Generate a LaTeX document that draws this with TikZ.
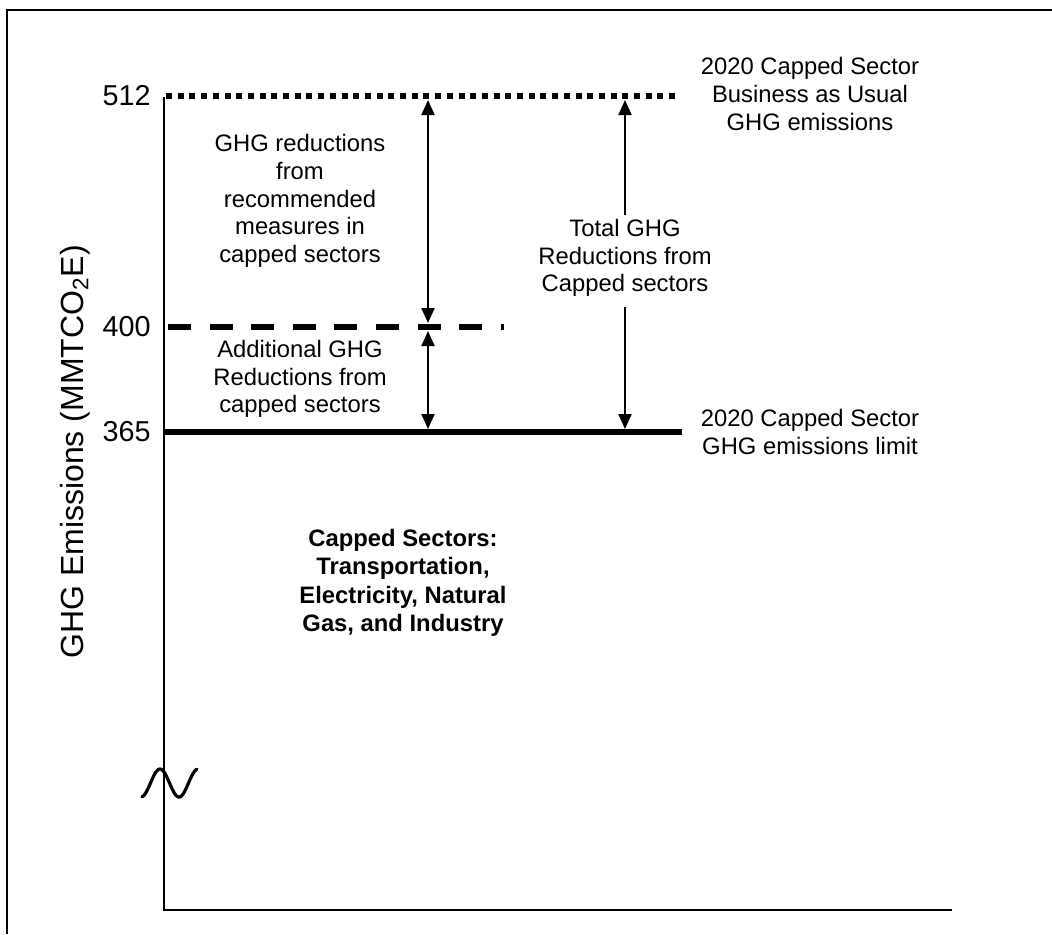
\documentclass[tikz,border=0pt]{standalone}
\usepackage{fontspec}
\setmainfont{Liberation Sans}
\usetikzlibrary{arrows.meta}
\begin{document}
\begin{tikzpicture}[x=0.5pt,y=-0.5pt,
  lbl/.style={align=center, font=\fontsize{11.9}{13.8}\selectfont, inner sep=0pt},
  boldlbl/.style={lbl, font=\fontsize{11.9}{14.2}\selectfont\bfseries},
  ticklbl/.style={anchor=east, font=\fontsize{14.4}{16}\selectfont, inner sep=0pt},
  axisline/.style={line width=1pt},
  bauline/.style={line width=2.8pt, dash pattern=on 3pt off 2.85pt},
  midline/.style={line width=2.9pt, dash pattern=on 11.5pt off 9.3pt},
  capline/.style={line width=3.3pt},
  tip/.tip={Triangle[length=7.5pt,width=6.5pt]},
  dbl/.style={line width=1pt, tip-tip},
  sgl/.style={line width=1pt, -tip}
]
\useasboundingbox (0,0) rectangle (1052,934);
% frame
\draw[line width=1pt] (7,934) -- (7,10) -- (1052,10);
% axes
\coordinate (ytop) at (164,97);
\coordinate (orig) at (164,910);
\coordinate (xend) at (952,910);
\draw[axisline] (ytop) -- (orig) -- (xend);
% levels
\coordinate (bau0) at (166,96);
\coordinate (bau1) at (680,96);
\coordinate (mid0) at (168,327);
\coordinate (mid1) at (504,327);
\coordinate (cap0) at (164,432);
\coordinate (cap1) at (682,432);
\draw[bauline] (bau0) -- (bau1);
\draw[midline] (mid0) -- (mid1);
\draw[capline] (cap0) -- (cap1);
% tick labels
\node[ticklbl] (t512) at (151,96) {512};
\node[ticklbl] (t400) at (151,327) {400};
\node[ticklbl] (t365) at (151,432) {365};
% axis title
\node[rotate=90, inner sep=0pt, font=\fontsize{16}{18}\selectfont] (ytitle) at (75,452) {GHG Emissions (MMTCO\textsubscript{2}E)};
% arrows
\coordinate (a1t) at (428,100);
\coordinate (a1b) at (428,323);
\coordinate (a2t) at (428,331);
\coordinate (a2b) at (428,429);
\coordinate (a3t) at (625,100);
\coordinate (a3b) at (625,429);
\draw[dbl] (a1t) -- (a1b);
\draw[dbl] (a2t) -- (a2b);
\node[lbl] (total) at (625,258) {Total GHG\\Reductions from\\Capped sectors};
\draw[sgl] ([yshift=2pt]total.north) -- (a3t);
\draw[sgl] ([yshift=-5pt]total.south) -- (a3b);
% labels
\node[lbl] (ghgred) at (300,201) {GHG reductions\\from\\recommended\\measures in\\capped sectors};
\node[lbl] (addl) at (300,379) {Additional GHG\\Reductions from\\capped sectors};
\node[lbl] (bau) at (810,94) {2020 Capped Sector\\Business as Usual\\GHG emissions};
\node[lbl] (limit) at (810,432) {2020 Capped Sector\\GHG emissions limit};
\node[boldlbl] (sectors) at (403,583) {Capped Sectors:\\Transportation,\\Electricity, Natural\\Gas, and Industry};
% axis break mark
\draw[line width=1.6pt, line cap=round] plot[domain=142:197, samples=50] (\x, {783 - 14*cos((\x-160)/38*360)});
\end{tikzpicture}
\end{document}
